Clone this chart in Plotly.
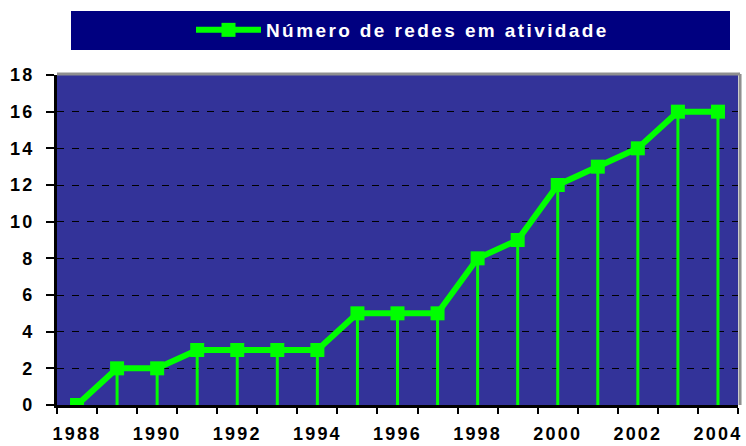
import plotly.graph_objects as go

years = [1988, 1989, 1990, 1991, 1992, 1993, 1994, 1995, 1996, 1997,
         1998, 1999, 2000, 2001, 2002, 2003, 2004]
redes = [0, 2, 2, 3, 3, 3, 3, 5, 5, 5, 8, 9, 12, 13, 14, 16, 16]
series_name = "Número de redes em atividade"
x_ticks = [1988, 1990, 1992, 1994, 1996, 1998, 2000, 2002, 2004]
y_ticks = [0, 2, 4, 6, 8, 10, 12, 14, 16, 18]

GREEN = "#00ff00"
FONT = "Arial, Liberation Sans, sans-serif"

fig = go.Figure()
fig.add_trace(go.Scatter(
    x=years, y=redes, name=series_name, mode="lines+markers",
    line=dict(color=GREEN, width=6),
    marker=dict(symbol="square", size=14, color=GREEN, line=dict(width=0)),
    error_y=dict(type="data", symmetric=False, array=[0] * len(redes),
                 arrayminus=redes, width=0, thickness=3, color=GREEN),
    showlegend=True,
))

# navy legend band and gray plot-frame shadow
fig.add_shape(type="rect", xref="paper", yref="paper",
              x0=14 / 681, x1=673 / 681, y0=(405 - 50) / 330, y1=(405 - 11) / 330,
              fillcolor="#000080", line=dict(width=0), layer="below")
fig.add_shape(type="line", xref="paper", yref="paper", x0=0, x1=1.003, y0=1.003, y1=1.003,
              line=dict(color="#8f8f8f", width=3))
fig.add_shape(type="line", xref="paper", yref="paper", x0=1.003, x1=1.003, y0=0, y1=1.003,
              line=dict(color="#8f8f8f", width=3))

fig.update_layout(
    width=746, height=446,
    margin=dict(l=57, r=8, t=75, b=41, autoexpand=False),
    paper_bgcolor="white", plot_bgcolor="#333399",
    font=dict(family=FONT, size=18, color="black", weight="bold"),
    showlegend=True,
    legend=dict(x=(191 - 57) / 681, y=(405 - 30) / 330, xanchor="left", yanchor="middle",
                bgcolor="rgba(0,0,0,0)", itemwidth=65,
                font=dict(family=FONT, size=19, color="white", weight="bold")),
    xaxis=dict(range=[1987.5, 2004.5], tickvals=x_ticks, ticktext=[str(v) for v in x_ticks],
               ticks="", showgrid=False, zeroline=False,
               showline=True, linecolor="black", linewidth=3,
               ticklabelstandoff=10,
               minor=dict(tick0=1987.5, dtick=1, ticks="outside", ticklen=6,
                          tickwidth=2, tickcolor="black", showgrid=False)),
    yaxis=dict(range=[0, 18], tickvals=y_ticks, ticks="outside", ticklen=8, tickwidth=2,
               tickcolor="black", showline=True, linecolor="black", linewidth=3,
               showgrid=True, gridcolor="black", gridwidth=1, griddash="7px,8px",
               zeroline=False, ticklabelstandoff=8),
)

post = """
document.body.style.margin = '0';
document.body.style.overflow = 'hidden';
var gd = document.getElementById('{plot_id}');
gd.querySelectorAll('.legend [clip-path]').forEach(function(e){ e.removeAttribute('clip-path'); });
gd.querySelectorAll('.legendtext').forEach(function(t){ t.style.letterSpacing='2.4px'; });
gd.querySelectorAll('.xtick text, .ytick text').forEach(function(t){ t.style.letterSpacing='2.2px'; });
"""
fig.write_html("out.html", post_script=post, config={"displayModeBar": False})
